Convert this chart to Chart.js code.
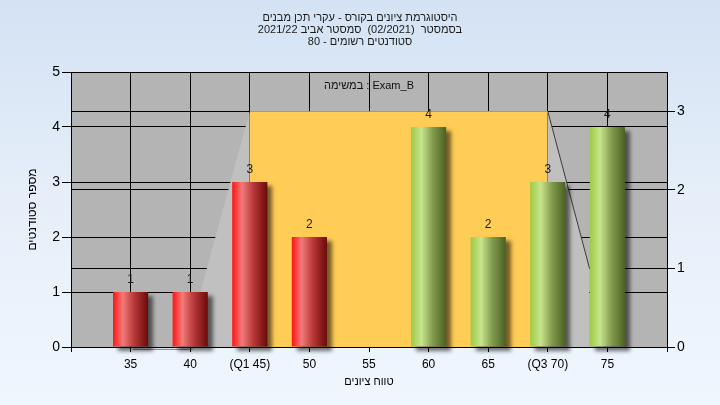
<!DOCTYPE html>
<html>
<head>
<meta charset="utf-8">
<script src="https://cdn.jsdelivr.net/npm/chart.js@4/dist/chart.umd.min.js"></script>
<style>
  html, body { margin: 0; padding: 0; }
  body { width: 720px; height: 405px; overflow: hidden;
         background: linear-gradient(to bottom, #d4e2f4 0%, #e6eff9 50%, #eff6fe 100%); }
  #wrap { width: 720px; height: 405px; position: relative; }
</style>
</head>
<body>
<div id="wrap"><canvas id="c" width="720" height="405"></canvas></div>
<script>
// ---- data ----
const titleLines = [
  "היסטוגרמת ציונים בקורס - עקרי תכן מבנים",
  "בסמסטר  (02/2021)  סמסטר אביב 2021/22",
  "סטודנטים רשומים - 80"
];
const examLabel = "במשימה : Exam_B";
const xTitle = "טווח ציונים";
const yTitle = "מספר סטודנטים";

const scores = [35, 40, 45, 50, 55, 60, 65, 70, 75];
const counts = [1, 1, 3, 2, 0, 4, 2, 3, 4];
const tickLabels = ['35', '40', '(Q1 45)', '50', '55', '60', '65', '(Q3 70)', '75'];

// box (right axis units): Q1..Q3 box and whiskers
const boxPoints = [{x: 45, y: 3}, {x: 70, y: 3}];
const leftWhisker = [{x: 39.6, y: 0}, {x: 45, y: 3}];
const rightWhisker = [{x: 70, y: 3}, {x: 73.5, y: 1}];
const minLine = [{x: 35.2, y: -0.03}, {x: 40.2, y: -0.03}];

const lowThreshold = 55;
const barPct = 0.59;
const FONT = "'Liberation Sans', Arial, sans-serif";

const barData = scores.map((s, i) => ({x: s, y: counts[i]}));

function barGradient(ctx) {
  const chart = ctx.chart;
  const xs = chart.scales.x;
  const low = ctx.raw && ctx.raw.x < lowThreshold;
  if (!xs || !ctx.raw || ctx.raw.x === undefined) return low ? '#c03030' : '#88a848';
  const cx = xs.getPixelForValue(ctx.raw.x);
  const half = (xs.getPixelForValue(5) - xs.getPixelForValue(0)) * barPct / 2;
  if (!isFinite(cx) || !isFinite(half) || half <= 0) return low ? '#c03030' : '#88a848';
  const g = chart.ctx.createLinearGradient(cx - half, 0, cx + half, 0);
  if (low) {
    g.addColorStop(0, '#ff1414');
    g.addColorStop(0.28, '#f27a7a');
    g.addColorStop(0.6, '#b83838');
    g.addColorStop(1, '#6a0a0a');
  } else {
    g.addColorStop(0, '#9ccc44');
    g.addColorStop(0.3, '#c8e48e');
    g.addColorStop(0.62, '#829a4c');
    g.addColorStop(1, '#4a6222');
  }
  return g;
}

const plotBg = {
  id: 'plotBg',
  beforeDraw(chart) {
    const {ctx, chartArea: a} = chart;
    ctx.save();
    ctx.fillStyle = '#b4b4b4';
    ctx.fillRect(a.left, a.top, a.right - a.left, a.bottom - a.top);
    ctx.restore();
  }
};

const barShadow = {
  id: 'barShadow',
  beforeDatasetDraw(chart, args) {
    if (args.meta.type !== 'bar') return;
    const ctx = chart.ctx;
    ctx.save();
    ctx.shadowColor = 'rgba(0,0,0,0.55)';
    ctx.shadowBlur = 4;
    ctx.shadowOffsetX = 5;
    ctx.shadowOffsetY = 4;
  },
  afterDatasetDraw(chart, args) {
    if (args.meta.type !== 'bar') return;
    chart.ctx.restore();
  }
};

const labelsPlugin = {
  id: 'labelsPlugin',
  afterDatasetsDraw(chart) {
    const ctx = chart.ctx;
    const a = chart.chartArea;
    ctx.save();
    ctx.font = '12px ' + FONT;
    ctx.fillStyle = '#1a1a1a';
    ctx.textAlign = 'center';
    ctx.textBaseline = 'middle';
    chart.data.datasets.forEach((ds, di) => {
      const meta = chart.getDatasetMeta(di);
      if (meta.type !== 'bar') return;
      meta.data.forEach((bar, i) => {
        if (counts[i] > 0) ctx.fillText(String(counts[i]), bar.x, bar.y - 12);
      });
    });
    ctx.font = '11px ' + FONT;
    ctx.fillStyle = '#111';
    ctx.fillText(examLabel, (a.left + a.right) / 2, a.top + 14);
    ctx.restore();
  }
};

new Chart(document.getElementById('c'), {
  type: 'bar',
  data: {
    datasets: [
      {
        type: 'bar', data: barData, xAxisID: 'x', yAxisID: 'y', order: 0,
        backgroundColor: barGradient, borderWidth: 0,
        barPercentage: barPct, categoryPercentage: 1, clip: false
      },
      {
        type: 'line', data: boxPoints, xAxisID: 'x', yAxisID: 'y2', order: 2,
        fill: 'origin', backgroundColor: '#ffcc55', borderWidth: 0, pointRadius: 0, tension: 0
      },
      {
        type: 'line', data: leftWhisker, xAxisID: 'x', yAxisID: 'y2', order: 3,
        fill: 'origin', backgroundColor: '#c0c0c0', borderWidth: 0, pointRadius: 0, tension: 0
      },
      {
        type: 'line', data: rightWhisker, xAxisID: 'x', yAxisID: 'y2', order: 4,
        fill: 'origin', backgroundColor: '#c0c0c0', borderColor: '#3a3a3a', borderWidth: 1,
        pointRadius: 0, tension: 0
      },
      {
        type: 'line', data: minLine, xAxisID: 'x', yAxisID: 'y2', order: 5,
        fill: false, borderColor: '#7c7c7c', borderWidth: 1, pointRadius: 0, clip: false
      }
    ]
  },
  options: {
    responsive: false,
    animation: false,
    events: [],
    layout: { padding: 0 },
    plugins: {
      legend: { display: false },
      tooltip: { enabled: false },
      title: {
        display: true, text: titleLines, color: '#1a1a1a',
        font: { family: FONT, size: 11, weight: 'normal', lineHeight: '12px' },
        padding: { top: 12, bottom: 24 }
      }
    },
    scales: {
      x: {
        type: 'linear', min: 30, max: 80, offset: false,
        grid: { color: '#000', lineWidth: 1, tickLength: 5, offset: false, drawOnChartArea: true },
        border: { color: '#000', width: 1 },
        ticks: {
          stepSize: 5, autoSkip: false, maxRotation: 0, padding: 5, color: '#000',
          font: { family: FONT, size: 12 },
          callback: (v) => { const i = scores.indexOf(v); return i >= 0 ? tickLabels[i] : ''; }
        },
        title: { display: true, text: xTitle, color: '#000',
                 font: { family: FONT, size: 11, lineHeight: 1 }, padding: { top: 0, bottom: 18 } },
        afterFit: (s) => { s.height = 58; }
      },
      y: {
        type: 'linear', position: 'left', min: 0, max: 5,
        grid: { color: '#000', lineWidth: 1, tickLength: 9 },
        border: { color: '#000', width: 1 },
        ticks: { stepSize: 1, padding: 2, color: '#000', font: { family: FONT, size: 14 } },
        title: { display: true, text: yTitle, color: '#000',
                 font: { family: FONT, size: 12, lineHeight: 1 }, padding: { top: 27, bottom: 0 } },
        afterFit: (s) => { s.width = 71; }
      },
      y2: {
        type: 'linear', position: 'right', min: 0, max: 3.5,
        grid: { color: '#000', lineWidth: 1, tickLength: 8, drawOnChartArea: true },
        border: { color: '#000', width: 1 },
        ticks: { stepSize: 1, includeBounds: false, padding: 2, color: '#000',
                 font: { family: FONT, size: 14 } },
        afterBuildTicks: (s) => { s.ticks = s.ticks.filter(t => Number.isInteger(t.value)); },
        afterFit: (s) => { s.width = 53; }
      }
    }
  },
  plugins: [plotBg, barShadow, labelsPlugin]
});
</script>
</body>
</html>
